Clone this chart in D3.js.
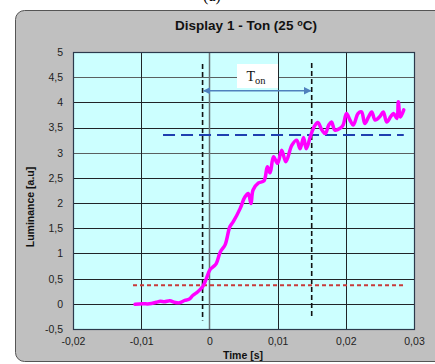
<!DOCTYPE html>
<html>
<head>
<meta charset="utf-8">
<script src="https://cdn.jsdelivr.net/npm/d3@7"></script>
<style>
  body { margin: 0; background: #fff; }
  svg { display: block; font-family: Arial, "Liberation Sans", sans-serif; }
  .axis path, .axis line { display: none; }
  .axis text { font-size: 10.5px; fill: #222; }
</style>
</head>
<body>
<div class="chart-container"></div>
<script>
// luminance trace
var timeValues = [-0.0109, -0.0098, -0.0088, -0.0078, -0.0072, -0.0066, -0.0058, -0.0051, -0.0044, -0.0036,
  -0.0030, -0.0024, -0.0017, -0.0010, -0.0005, 0.0001, 0.0006, 0.0010, 0.0016, 0.0023,
  0.0030, 0.0035, 0.0045, 0.0052, 0.0057, 0.0061, 0.0064, 0.0072, 0.0080, 0.0085,
  0.0089, 0.0094, 0.0100, 0.0106, 0.0112, 0.0121, 0.0128, 0.0133, 0.0138, 0.0142,
  0.0148, 0.0153, 0.0159, 0.0165, 0.0170, 0.0175, 0.0179, 0.0184, 0.0191, 0.0196,
  0.0201, 0.0206, 0.0211, 0.0218, 0.0223, 0.0228, 0.0233, 0.0238, 0.0243, 0.0250,
  0.0255, 0.0260, 0.0266, 0.0270, 0.0275, 0.0277, 0.0280, 0.0285];
var luminanceValues = [-0.01, 0.00, 0.00, 0.03, 0.05, 0.04, 0.06, 0.03, 0.02, 0.07,
  0.09, 0.17, 0.24, 0.34, 0.48, 0.68, 0.74, 0.80, 1.03, 1.17,
  1.53, 1.63, 1.89, 2.12, 2.19, 1.99, 2.26, 2.40, 2.44, 2.72,
  2.60, 2.92, 2.79, 3.05, 2.82, 3.15, 3.25, 3.08, 3.30, 3.08,
  3.32, 3.50, 3.60, 3.45, 3.38, 3.55, 3.61, 3.45, 3.48, 3.55,
  3.78, 3.65, 3.55, 3.78, 3.81, 3.58, 3.70, 3.81, 3.65, 3.72,
  3.81, 3.61, 3.72, 3.78, 3.68, 4.01, 3.71, 3.85];

var xTicks = [-0.02, -0.01, 0, 0.01, 0.02, 0.03];
var yTicks = [-0.5, 0, 0.5, 1, 1.5, 2, 2.5, 3, 3.5, 4, 4.5, 5];

// markers: start / end of Ton, 10% and 90% levels
var tonStart = -0.001;
var tonEnd = 0.015;
var level10 = 0.37;
var level90 = 3.35;

var width = 435;
var height = 364;
var plot = {left: 73, right: 414, top: 52, bottom: 329};

var fmt = v => String(v).replace('.', ',');

var x = d3.scaleLinear()
  .domain([-0.02, 0.03])
  .range([plot.left, plot.right]);

var y = d3.scaleLinear()
  .domain([-0.5, 5])
  .range([plot.bottom, plot.top]);

var svg = d3.select('.chart-container').append('svg')
  .attr('width', width)
  .attr('height', height);

// caption, cut off at the top as in the original
svg.append('text')
  .attr('x', 212).attr('y', 1)
  .attr('text-anchor', 'middle')
  .style('font-family', '"Liberation Serif", serif')
  .style('font-size', '16px')
  .text('(a)');

// chart area
svg.append('rect')
  .attr('x', 15.5).attr('y', 10.5)
  .attr('width', 440).attr('height', 351)
  .attr('rx', 9)
  .attr('fill', '#c0c0c0')
  .attr('stroke', '#555')
  .attr('stroke-width', 1);

svg.append('rect')
  .attr('x', plot.left).attr('y', plot.top)
  .attr('width', plot.right - plot.left).attr('height', plot.bottom - plot.top)
  .attr('fill', '#ccffff');

// grid
svg.append('g').selectAll('line')
  .data(yTicks.slice(1, -1))
  .enter().append('line')
    .attr('x1', plot.left).attr('x2', plot.right)
    .attr('y1', d => Math.round(y(d)) + 0.5).attr('y2', d => Math.round(y(d)) + 0.5)
    .attr('stroke', d => d === 3 || d === 4.5 ? '#5a6060' : '#202428')
    .attr('stroke-width', 1);

svg.append('g').selectAll('line')
  .data(xTicks.slice(1, -1))
  .enter().append('line')
    .attr('y1', plot.top).attr('y2', plot.bottom)
    .attr('x1', d => Math.round(x(d)) + 0.5).attr('x2', d => Math.round(x(d)) + 0.5)
    .attr('stroke', d => d === 0 ? '#6a7478' : '#202428')
    .attr('stroke-width', d => d === 0 ? 1.5 : 1);

svg.append('rect')
  .attr('x', plot.left + 0.5).attr('y', plot.top + 0.5)
  .attr('width', plot.right - plot.left).attr('height', plot.bottom - plot.top)
  .attr('fill', 'none')
  .attr('stroke', '#2c3a4c')
  .attr('stroke-width', 1.2);

// axes
var gX = svg.append('g')
  .attr('class', 'axis')
  .attr('transform', `translate(0, ${plot.bottom})`)
  .call(d3.axisBottom(x).tickValues(xTicks).tickFormat(fmt).tickSize(0).tickPadding(9));

var gY = svg.append('g')
  .attr('class', 'axis')
  .attr('transform', `translate(${plot.left},0)`)
  .call(d3.axisLeft(y).tickValues(yTicks).tickFormat(fmt).tickSize(0).tickPadding(10));

svg.append('text')
  .attr('x', 246).attr('y', 30)
  .attr('text-anchor', 'middle')
  .style('font-size', '13.5px').style('font-weight', 'bold').style('fill', '#111')
  .html('Display 1 - Ton (25 <tspan dy="-4" font-size="9px">o</tspan><tspan dy="4">C)</tspan>');

svg.append('text')
  .attr('x', 243).attr('y', 359)
  .attr('text-anchor', 'middle')
  .style('font-size', '10.5px').style('font-weight', 'bold').style('fill', '#111')
  .text('Time [s]');

svg.append('text')
  .attr('transform', 'translate(34, 207) rotate(-90)')
  .attr('text-anchor', 'middle')
  .style('font-size', '10.5px').style('font-weight', 'bold').style('fill', '#111')
  .text('Luminance [a.u]');

// reference lines
svg.append('line')
  .attr('x1', x(-0.0112)).attr('x2', x(0.0284))
  .attr('y1', y(level10)).attr('y2', y(level10))
  .attr('stroke', '#c83a3a').attr('stroke-width', 2)
  .attr('stroke-dasharray', '4,3');

svg.append('line')
  .attr('x1', x(-0.0068)).attr('x2', x(0.0285))
  .attr('y1', y(level90)).attr('y2', y(level90))
  .attr('stroke', '#1f3fb0').attr('stroke-width', 2)
  .attr('stroke-dasharray', '12,6');

svg.append('line')
  .attr('x1', x(tonStart)).attr('x2', x(tonStart))
  .attr('y1', y(4.76)).attr('y2', y(-0.33))
  .attr('stroke', '#111').attr('stroke-width', 1.6)
  .attr('stroke-dasharray', '5,3');

svg.append('line')
  .attr('x1', x(tonEnd)).attr('x2', x(tonEnd))
  .attr('y1', y(4.78)).attr('y2', y(-0.25))
  .attr('stroke', '#111').attr('stroke-width', 1.6)
  .attr('stroke-dasharray', '5,3');

// Ton arrow
var defs = svg.append('defs');
defs.append('marker')
  .attr('id', 'arr')
  .attr('viewBox', '0 0 10 10')
  .attr('refX', 9).attr('refY', 5)
  .attr('markerWidth', 5).attr('markerHeight', 5)
  .attr('orient', 'auto-start-reverse')
  .append('path')
    .attr('d', 'M0,0L10,5L0,10Z')
    .attr('fill', '#4f81bd');

svg.append('rect')
  .attr('x', 237).attr('y', 64)
  .attr('width', 41).attr('height', 24)
  .attr('fill', '#fff');

svg.append('text')
  .attr('x', 256).attr('y', 81)
  .attr('text-anchor', 'middle')
  .style('font-family', '"Liberation Serif", serif')
  .style('font-size', '14px').style('fill', '#111')
  .html('T<tspan dy="3" font-size="10.5px">on</tspan>');

svg.append('line')
  .attr('x1', x(tonStart) + 1).attr('x2', x(tonEnd) - 1)
  .attr('y1', y(4.23)).attr('y2', y(4.23))
  .attr('stroke', '#4f81bd').attr('stroke-width', 1.5)
  .attr('marker-start', 'url(#arr)')
  .attr('marker-end', 'url(#arr)');

// trace
var trace = timeValues.map((t, i) => ({t: t, v: luminanceValues[i]}));
var line = d3.line()
  .x(d => x(d.t))
  .y(d => y(d.v))
  .curve(d3.curveCatmullRom.alpha(0.5));

svg.append('path')
  .datum(trace)
  .attr('d', line)
  .attr('fill', 'none')
  .attr('stroke', '#ff00ff')
  .attr('stroke-width', 3.5)
  .attr('stroke-linejoin', 'round')
  .attr('stroke-linecap', 'round');
</script>
</body>
</html>
